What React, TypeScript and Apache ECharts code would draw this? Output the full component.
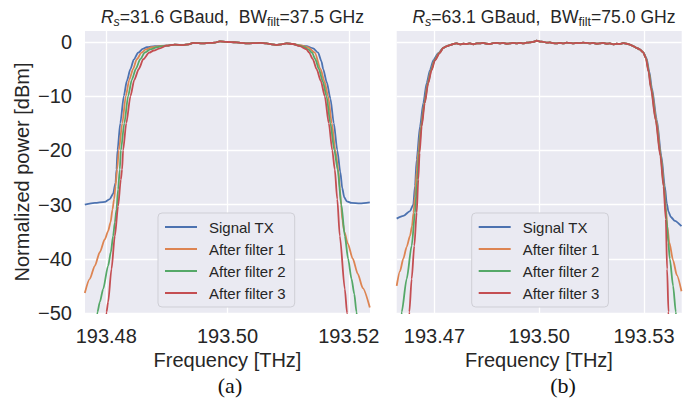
import React, { useEffect, useRef } from 'react';
import * as echarts from 'echarts';

const FONT = "'Liberation Sans', Arial, Helvetica, sans-serif";
const TEXT = '#262626';

const SERIES_NAMES = ['Signal TX', 'After filter 1', 'After filter 2', 'After filter 3'];
const COLORS = ['#4C72B0', '#DD8452', '#55A868', '#C44E52'];

const X_TICKS_A = [193.48, 193.5, 193.52];
const X_TICKS_B = [193.47, 193.5, 193.53];
const Y_TICKS = [-50, -40, -30, -20, -10, 0];
const X_RANGE_A = [193.4765, 193.5235];
const X_RANGE_B = [193.4592, 193.5408];
const Y_RANGE = [-50, 2];

// ---------- panel (a) ----------
const aTop = [
  [193.48994, -0.7], [193.49131, -0.5], [193.49268, -0.6], [193.4936, -0.45], [193.49433, -0.2],
  [193.4952, -0.25], [193.49598, -0.3], [193.49708, -0.2], [193.4979, -0.15], [193.49873, 0.1],
  [193.49984, 0.0], [193.5006, -0.05], [193.50148, -0.1], [193.5023, -0.2], [193.50313, -0.3],
  [193.5042, -0.25], [193.50533, -0.2], [193.50643, -0.3], [193.5073, -0.45], [193.50808, -0.6],
  [193.5089, -0.45], [193.50973, -0.3], [193.51082, -0.4],
];
const aTxLeft = [
  [193.47647, -30.0], [193.47812, -29.7], [193.47977, -29.5], [193.48059, -29.0], [193.48114, -28.0],
  [193.48153, -26.0], [193.4817, -23.5], [193.48186, -20.0], [193.48232, -15.0], [193.4829, -10.0],
  [193.4834, -7.2], [193.484, -5.0], [193.48454, -3.3], [193.48526, -2.0], [193.48603, -1.3],
  [193.48669, -1.0], [193.48801, -0.8],
];
const aTxRight = [
  [193.51192, -0.7], [193.51303, -0.8], [193.51412, -1.2], [193.51494, -2.0], [193.5155, -3.6],
  [193.51577, -5.0], [193.51638, -7.5], [193.51698, -10.5], [193.51753, -15.0], [193.51811, -20.0],
  [193.5186, -24.0], [193.51893, -27.0], [193.51926, -28.7], [193.51967, -29.4], [193.52045, -29.7],
  [193.52182, -29.8], [193.52347, -29.6],
];
const aF1Left = [
  [193.47647, -46.3], [193.47729, -43.7], [193.47812, -41.3], [193.47894, -38.8], [193.47977, -36.4],
  [193.48031, -34.9], [193.48071, -33.3], [193.48104, -30.9], [193.4813, -29.0], [193.48153, -26.6],
  [193.4818, -23.5], [193.48208, -20.0], [193.48265, -15.0], [193.48323, -10.0], [193.4838, -7.0],
  [193.48443, -5.0], [193.48504, -3.2], [193.48582, -2.0], [193.48653, -1.4], [193.48752, -1.0],
  [193.48884, -0.8],
];
const aF1Right = [
  [193.51192, -0.6], [193.51324, -1.0], [193.5144, -2.0], [193.51534, -5.0], [193.51596, -7.2],
  [193.51659, -10.0], [193.5172, -15.0], [193.51778, -20.0], [193.51827, -23.5], [193.51852, -27.0],
  [193.51873, -30.0], [193.51896, -33.0], [193.51926, -35.0], [193.51984, -37.2], [193.52066, -40.0],
  [193.52149, -42.8], [193.52231, -45.4], [193.52347, -49.0],
];
const aF2Left = [
  [193.47828, -53.0], [193.47856, -49.8], [193.47894, -48.0], [193.47949, -45.6], [193.48031, -41.3],
  [193.48076, -38.8], [193.48114, -35.8], [193.48142, -33.3], [193.4817, -30.9], [193.48196, -27.2],
  [193.48224, -23.5], [193.48241, -20.0], [193.48299, -15.0], [193.48361, -10.0], [193.48422, -7.0],
  [193.48488, -5.0], [193.48562, -3.2], [193.48636, -2.0], [193.48727, -1.4], [193.48834, -1.0],
  [193.48933, -0.8],
];
const aF2Right = [
  [193.51192, -0.7], [193.51275, -1.0], [193.51332, -1.4], [193.51395, -2.0], [193.51448, -3.2],
  [193.51506, -5.0], [193.51572, -7.3], [193.51633, -10.0], [193.51696, -15.0], [193.51762, -20.0],
  [193.51816, -23.5], [193.51877, -30.0], [193.51935, -35.8], [193.51989, -40.0], [193.52045, -43.7],
  [193.52091, -46.5], [193.52127, -49.8], [193.52149, -52.0],
];
const aF3Left = [
  [193.47977, -54.0], [193.48005, -49.8], [193.48031, -48.0], [193.48087, -41.9], [193.48142, -35.8],
  [193.48196, -30.3], [193.48241, -25.4], [193.48262, -23.5], [193.48278, -20.0], [193.48331, -15.0],
  [193.484, -10.0], [193.48463, -7.0], [193.48537, -5.0], [193.48612, -3.2], [193.48707, -2.0],
  [193.48785, -1.6], [193.48884, -1.2],
];
const aF3Right = [
  [193.51192, -0.8], [193.51303, -1.4], [193.51346, -2.0], [193.51407, -3.2], [193.51468, -5.0],
  [193.51539, -7.2], [193.51604, -10.0], [193.5167, -15.0], [193.51728, -20.0], [193.51769, -23.5],
  [193.5181, -29.0], [193.51852, -35.8], [193.51935, -45.6], [193.51972, -50.0], [193.51992, -53.0],
];

// ---------- panel (b) ----------
const bTop = [
  [193.47253, -1.1], [193.47359, -0.8], [193.47445, -0.6], [193.4754, -0.4], [193.47637, -0.3],
  [193.47731, -0.45], [193.47826, -0.35], [193.47923, -0.4], [193.48017, -0.3], [193.48112, -0.45],
  [193.48209, -0.3], [193.48303, -0.3], [193.48398, -0.2], [193.48495, -0.35], [193.48589, -0.4],
  [193.48684, -0.25], [193.48781, -0.2], [193.48876, -0.3], [193.4897, -0.2], [193.49067, -0.35],
  [193.49162, -0.3], [193.49256, -0.2], [193.49353, -0.3], [193.49448, -0.2], [193.49542, -0.3],
  [193.4964, -0.15], [193.49734, -0.1], [193.49828, 0.0], [193.49926, 0.2], [193.5002, 0.05],
  [193.50114, 0.0], [193.50212, -0.15], [193.50306, -0.1], [193.50401, -0.25], [193.50498, -0.3],
  [193.50592, -0.2], [193.50687, -0.3], [193.50784, -0.15], [193.50878, -0.2], [193.50973, -0.3],
  [193.5107, -0.2], [193.51164, -0.25], [193.51259, -0.15], [193.51356, -0.2], [193.51451, -0.3],
  [193.51545, -0.2], [193.51642, -0.35], [193.51737, -0.3], [193.51831, -0.2], [193.51928, -0.35],
  [193.52023, -0.3], [193.52117, -0.45], [193.52214, -0.35], [193.52309, -0.4], [193.52403, -0.25],
  [193.52501, -0.35], [193.52595, -0.5], [193.52689, -0.8], [193.52787, -1.1], [193.52881, -1.4],
];
const bTxLeft = [
  [193.4592, -32.6], [193.46109, -32.1], [193.46301, -31.2], [193.46395, -30.0], [193.46444, -26.6],
  [193.46492, -21.7], [193.46587, -15.6], [193.46681, -11.3], [193.46778, -7.6], [193.46873, -5.2],
  [193.46967, -3.4], [193.4711, -2.1],
];
const bTxRight = [
  [193.52975, -1.9], [193.53073, -3.0], [193.53153, -5.5], [193.53225, -8.5], [193.53367, -14.4],
  [193.53496, -21.0], [193.53596, -26.6], [193.53653, -29.8], [193.53702, -31.3], [193.53768, -32.3],
  [193.53882, -33.0], [193.54074, -34.0],
];
const bF1Left = [
  [193.4592, -45.0], [193.46014, -42.3], [193.46109, -40.0], [193.46206, -37.8], [193.46301, -35.8],
  [193.46358, -34.0], [193.46401, -31.5], [193.46444, -28.5], [193.46492, -24.0], [193.46544, -20.0],
  [193.46615, -15.6], [193.4671, -11.3], [193.46807, -7.6], [193.46901, -5.2], [193.47002, -3.4],
  [193.4713, -2.1],
];
const bF1Right = [
  [193.52975, -1.9], [193.53061, -3.0], [193.53139, -5.5], [193.5321, -8.5], [193.53355, -14.4],
  [193.53482, -21.0], [193.53576, -26.6], [193.53625, -30.5], [193.53668, -34.0], [193.53725, -37.0],
  [193.53834, -40.3], [193.5394, -43.0], [193.54074, -46.0],
];
const bF2Left = [
  [193.46043, -52.0], [193.46063, -49.8], [193.46206, -43.7], [193.46349, -37.6], [193.46444, -31.5],
  [193.4651, -25.4], [193.46558, -20.5], [193.46624, -15.6], [193.46716, -11.3], [193.46816, -7.6],
  [193.4691, -5.2], [193.47007, -3.4], [193.47139, -2.1],
];
const bF2Right = [
  [193.52975, -1.9], [193.53058, -3.0], [193.53136, -5.5], [193.53204, -8.5], [193.53339, -14.4],
  [193.53476, -21.0], [193.53568, -26.6], [193.53645, -32.7], [193.53696, -37.0], [193.53739, -40.0],
  [193.53834, -45.0], [193.53911, -49.8], [193.5394, -52.0],
];
const bF3Left = [
  [193.46258, -54.0], [193.46281, -49.8], [193.46349, -43.7], [193.46424, -37.6], [193.46492, -31.5],
  [193.46538, -25.4], [193.46575, -20.5], [193.46635, -15.6], [193.46724, -11.3], [193.46824, -7.6],
  [193.46919, -5.2], [193.47016, -3.4], [193.47148, -2.1],
];
const bF3Right = [
  [193.52975, -1.9], [193.53053, -3.0], [193.5313, -5.5], [193.53196, -8.5], [193.53333, -14.4],
  [193.53468, -21.0], [193.53559, -26.6], [193.53625, -32.7], [193.53662, -41.9], [193.53702, -49.8],
  [193.53716, -53.0],
];

const PANEL_A = [
  [...aTxLeft, ...aTop, ...aTxRight],
  [...aF1Left, ...aTop, ...aF1Right],
  [...aF2Left, ...aTop, ...aF2Right],
  [...aF3Left, ...aTop, ...aF3Right],
];
const PANEL_B = [
  [...bTxLeft, ...bTop, ...bTxRight],
  [...bF1Left, ...bTop, ...bF1Right],
  [...bF2Left, ...bTop, ...bF2Right],
  [...bF3Left, ...bTop, ...bF3Right],
];

const minus = (v: number) => (v < 0 ? '\u2212' + Math.abs(v) : String(v));

function xAxisCfg(gridIndex: number, range: number[], ticks: number[]) {
  return {
    type: 'value',
    gridIndex,
    min: range[0],
    max: range[1],
    axisLine: { show: false },
    axisTick: { show: false, customValues: ticks },
    axisLabel: {
      customValues: ticks,
      formatter: (v: number) => v.toFixed(2),
      fontSize: 20,
      fontFamily: FONT,
      color: TEXT,
      margin: 13,
    },
    splitLine: { show: true, lineStyle: { color: '#ffffff', width: 1.3 } },
  };
}

function yAxisCfg(gridIndex: number, showLabels: boolean) {
  return {
    type: 'value',
    gridIndex,
    min: Y_RANGE[0],
    max: Y_RANGE[1],
    axisLine: { show: false },
    axisTick: { show: false, customValues: Y_TICKS },
    axisLabel: {
      show: showLabels,
      customValues: Y_TICKS,
      formatter: minus,
      fontSize: 20,
      fontFamily: FONT,
      color: TEXT,
      margin: 13,
    },
    splitLine: { show: true, lineStyle: { color: '#ffffff', width: 1.3 } },
  };
}

function titleCfg(center: number, rs: string, bw: string) {
  const base = { fontFamily: FONT, color: TEXT, fontWeight: 'normal' };
  return {
    left: center,
    top: 1,
    textAlign: 'center',
    text: `{ri|R}{si|s}{n|=${rs} GBaud,  BW}{sb|filt}{n|=${bw} GHz}`,
    textStyle: {
      fontWeight: 'normal',
      rich: {
        ri: { ...base, fontSize: 17.6, fontStyle: 'italic', lineHeight: 22 },
        n: { ...base, fontSize: 17.6, lineHeight: 22 },
        si: { ...base, fontSize: 12.5, fontStyle: 'italic', lineHeight: 10, verticalAlign: 'bottom' },
        sb: { ...base, fontSize: 12.5, lineHeight: 10, verticalAlign: 'bottom' },
      },
    },
  };
}

function legendCfg(left: number) {
  return {
    orient: 'vertical',
    left,
    top: 213,
    data: SERIES_NAMES,
    icon: 'rect',
    itemWidth: 32,
    itemHeight: 2,
    itemGap: 6,
    padding: [6, 9, 6, 7],
    backgroundColor: '#EAEAF2',
    borderColor: '#cfcfd6',
    borderWidth: 1,
    borderRadius: 4,
    selectedMode: false,
    textStyle: { fontSize: 15, fontFamily: FONT, color: TEXT, lineHeight: 16, padding: [0, 0, 0, 7] },
  };
}

export default function App() {
  const ref = useRef<HTMLDivElement>(null);
  useEffect(() => {
    if (!ref.current) return;
    const chart = echarts.init(ref.current, undefined, { renderer: 'svg' });
    const series: any[] = [];
    [PANEL_A, PANEL_B].forEach((panel, pi) => {
      panel.forEach((data, si) => {
        series.push({
          type: 'line',
          name: SERIES_NAMES[si],
          xAxisIndex: pi,
          yAxisIndex: pi,
          data,
          symbol: 'none',
          showSymbol: false,
          smooth: 0.25,
          smoothMonotone: 'x',
          clip: true,
          lineStyle: { width: 1.8, color: COLORS[si] },
          itemStyle: { color: COLORS[si] },
        });
      });
    });
    chart.setOption({
      animation: false,
      backgroundColor: '#ffffff',
      title: [titleCfg(227.5, '31.6', '37.5'), titleCfg(539, '63.1', '75.0')],
      grid: [
        { left: 85, top: 31, width: 285, height: 282, show: true, backgroundColor: '#EAEAF2', borderWidth: 0 },
        { left: 396.7, top: 31, width: 285, height: 282, show: true, backgroundColor: '#EAEAF2', borderWidth: 0 },
      ],
      xAxis: [xAxisCfg(0, X_RANGE_A, X_TICKS_A), xAxisCfg(1, X_RANGE_B, X_TICKS_B)],
      yAxis: [yAxisCfg(0, true), yAxisCfg(1, false)],
      legend: [legendCfg(158), legendCfg(471.7)],
      series,
      graphic: [
        {
          type: 'text', x: 21.5, y: 172, rotation: Math.PI / 2,
          style: { text: 'Normalized power [dBm]', fontSize: 20, fontFamily: FONT, fill: TEXT, align: 'center', verticalAlign: 'middle' },
        },
        {
          type: 'text', x: 227.5, y: 360,
          style: { text: 'Frequency [THz]', fontSize: 20, fontFamily: FONT, fill: TEXT, align: 'center', verticalAlign: 'middle' },
        },
        {
          type: 'text', x: 539, y: 360,
          style: { text: 'Frequency [THz]', fontSize: 20, fontFamily: FONT, fill: TEXT, align: 'center', verticalAlign: 'middle' },
        },
        {
          type: 'text', x: 230, y: 385,
          style: { text: '(a)', fontSize: 22, fontFamily: "'Liberation Serif', 'Times New Roman', serif", fill: '#111', align: 'center', verticalAlign: 'middle' },
        },
        {
          type: 'text', x: 563, y: 385,
          style: { text: '(b)', fontSize: 22, fontFamily: "'Liberation Serif', 'Times New Roman', serif", fill: '#111', align: 'center', verticalAlign: 'middle' },
        },
      ],
    });
    return () => chart.dispose();
  }, []);
  return (
    <div
      ref={ref}
      style={{ position: 'fixed', left: 0, top: 0, width: 697, height: 400, background: '#fff' }}
    />
  );
}
